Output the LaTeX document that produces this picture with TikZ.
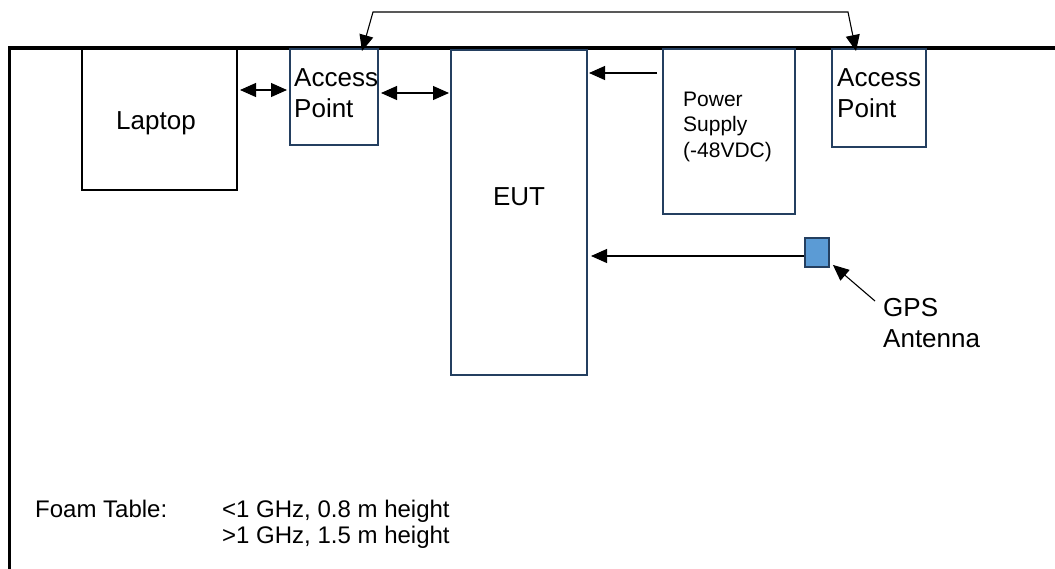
\documentclass[tikz,border=0pt]{standalone}
\usepackage{fontspec}
\setmainfont{Liberation Sans}
\usetikzlibrary{arrows.meta}
\definecolor{boxblue}{HTML}{243F60}
\definecolor{gpsfill}{HTML}{5B9BD5}
\begin{document}
\begin{tikzpicture}[x=1pt,y=-1pt,
  blackbox/.style={draw=black,line width=2pt,rectangle,inner sep=0pt},
  bluebox/.style={draw=boxblue,line width=2pt,rectangle,inner sep=0pt},
  txt/.style={anchor=base west,inner sep=0pt,align=left,font=\fontsize{26}{31}\selectfont},
  foamtxt/.style={anchor=base west,inner sep=0pt,align=left,font=\fontsize{24}{26}\selectfont},
  smalltxt/.style={anchor=base west,inner sep=0pt,align=left,font=\fontsize{21}{25.5}\selectfont},
  arr/.style={line width=1.1pt,-{Triangle[length=16pt,width=14pt]}},
  darr/.style={line width=1.1pt,{Triangle[length=16pt,width=14pt]}-{Triangle[length=16pt,width=14pt]}}]
\useasboundingbox (0,0) rectangle (1055,568);
% table outline
\draw[line width=3.8pt,line join=miter] (1055,48) -- (9.5,48) -- (9.5,570);
% boxes
\node[blackbox,minimum width=155pt,minimum height=141pt] (laptop) at (159.5,119.5) {};
\node[bluebox,minimum width=88pt,minimum height=96pt] (ap1) at (334,97) {};
\node[bluebox,minimum width=136pt,minimum height=325pt] (eut) at (519,212.5) {};
\node[bluebox,minimum width=132pt,minimum height=165pt] (ps) at (729,131.5) {};
\node[bluebox,minimum width=94pt,minimum height=98pt] (ap2) at (879,98) {};
\node[draw=boxblue,line width=1.8pt,fill=gpsfill,minimum width=24pt,minimum height=29pt,inner sep=0pt] (gps) at (817,252.5) {};
% texts (multi-line nodes: base = last line baseline)
\node[txt,anchor=base] (laptopt) at (156,129) {Laptop};
\node[txt] (ap1t) at (294,117) {Access\\Point};
\node[txt,anchor=base] (eutt) at (519,205) {EUT};
\node[smalltxt] (pst) at (683,157) {Power\\Supply\\(-48VDC)};
\node[txt] (ap2t) at (837,117) {Access\\Point};
\node[txt] (gpst) at (883,347) {GPS\\Antenna};
\node[foamtxt] (foam) at (35,517) {Foam Table:};
\node[foamtxt] (foamv) at (222,543) {<1 GHz, 0.8 m height\\>1 GHz, 1.5 m height};
% connectors
\draw[darr] ([xshift=2pt]laptop.east |- 0,90) -- ([xshift=-2pt]ap1.west |- 0,90);
\draw[darr] ([xshift=2pt]ap1.east |- 0,93) -- ([xshift=-1pt]eut.west |- 0,93);
\draw[arr] (ps.west |- 0,73) ++(-5,0) -- ([xshift=1pt]eut.east |- 0,73);
\draw[arr] (gps.west |- 0,256) -- ([xshift=3pt]eut.east |- 0,256);
\coordinate (gpsc) at (875,301);
\draw[arr] (gpsc) -- ([xshift=3pt,yshift=3pt]gps.south east);
\coordinate (t1) at (373,12);
\coordinate (t2) at (848,12);
\draw[line width=1.1pt,{Triangle[length=16pt,width=14pt]}-{Triangle[length=16pt,width=14pt]}]
  ([xshift=28pt,yshift=-3pt]ap1.north) -- (t1) -- (t2) -- ([xshift=-23pt,yshift=-3pt]ap2.north);
\end{tikzpicture}
\end{document}
